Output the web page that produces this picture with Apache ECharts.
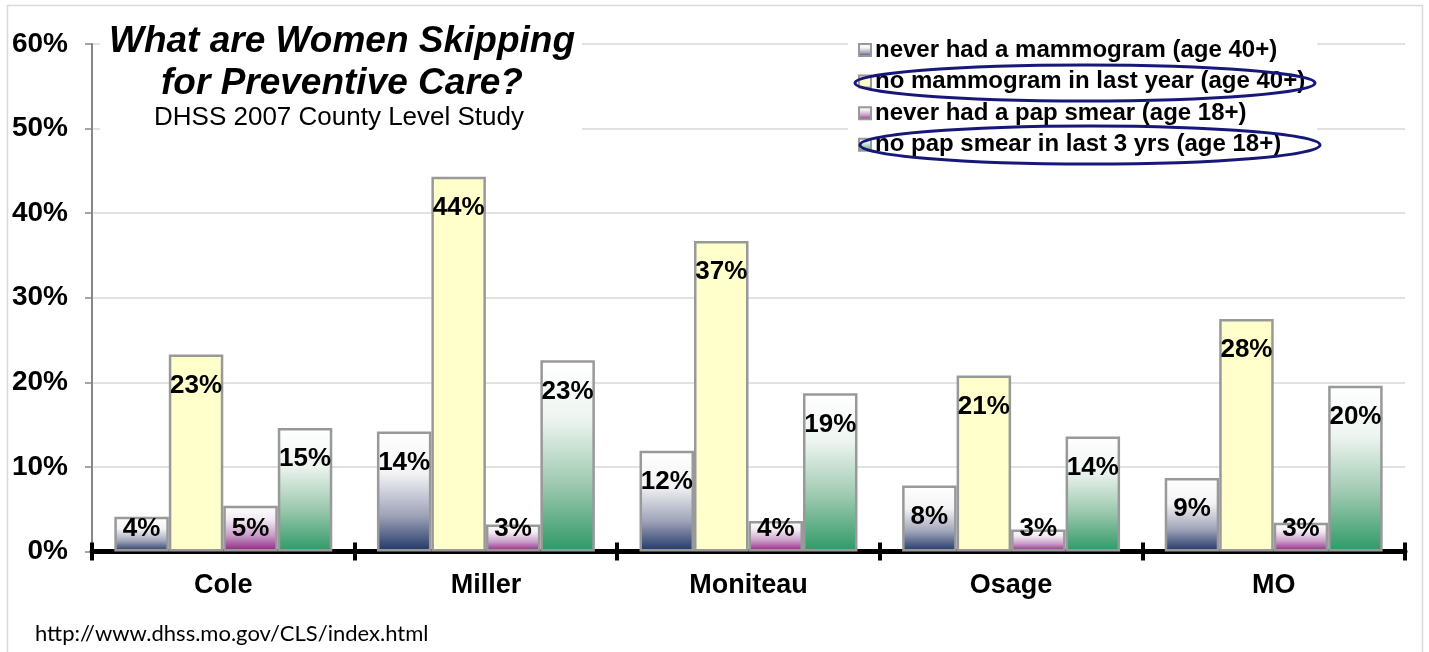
<!DOCTYPE html>
<html>
<head>
<meta charset="utf-8">
<script src="https://cdn.jsdelivr.net/npm/echarts@6/dist/echarts.min.js"></script>
<style>
  html, body { margin: 0; padding: 0; background: #ffffff; }
  #chart { width: 1429px; height: 652px; }
</style>
</head>
<body>
<div id="chart"></div>
<script>
// ---- data ----
var categories = ['Cole', 'Miller', 'Moniteau', 'Osage', 'MO'];
var seriesNames = [
  'never had a mammogram (age 40+)',
  'no mammogram in last year (age 40+)',
  'never had a pap smear (age 18+)',
  'no pap smear in last 3 yrs (age 18+)'
];
var neverMammogram      = [4.1, 14.2, 11.9, 7.8, 8.7];
var noMammogramLastYear = [23.3, 44.3, 36.7, 20.8, 27.5];
var neverPapSmear       = [5.4, 3.2, 3.6, 2.6, 3.4];
var noPapLast3Years     = [14.6, 22.6, 18.7, 13.6, 19.6];
var yTicks = [0, 10, 20, 30, 40, 50, 60];
var titleLines = ['What are Women Skipping', 'for Preventive Care?'];
var subtitle = 'DHSS 2007 County Level Study';
var sourceUrl = 'http://www.dhss.mo.gov/CLS/index.html';

var FONT = '"Liberation Sans", Arial, sans-serif';

function grad(stops) {
  return new echarts.graphic.LinearGradient(0, 0, 0, 1,
    stops.map(function (s) { return { offset: s[0], color: s[1] }; }));
}
var fills = [
  grad([[0, '#ffffff'], [0.35, '#f3f3f5'], [0.7, '#9ea3b8'], [1, '#1f3566']]),
  '#ffffcc',
  grad([[0, '#ffffff'], [0.3, '#f2eaf2'], [0.65, '#c99bc7'], [1, '#86237f']]),
  grad([[0, '#ffffff'], [0.3, '#eef5f1'], [0.65, '#9dc9b0'], [1, '#2e9966']])
];
var allValues = [neverMammogram, noMammogramLastYear, neverPapSmear, noPapLast3Years];

function buildData(vals) {
  return vals.map(function (v) {
    if (v < 6.5) {
      return { value: v, label: { position: 'insideBottom', distance: 10 } };
    }
    return { value: v };
  });
}

var series = allValues.map(function (vals, i) {
  return {
    name: seriesNames[i],
    type: 'bar',
    barGap: '0%',
    barCategoryGap: '17%',
    data: buildData(vals),
    itemStyle: { color: fills[i], borderColor: '#999999', borderWidth: 2.5 },
    label: {
      show: true,
      position: 'insideTop',
      distance: 18,
      color: '#000000',
      fontFamily: FONT,
      fontWeight: 'bold',
      fontSize: 26,
      formatter: function (p) { return Math.round(p.value) + '%'; }
    }
  };
});

var chart = echarts.init(document.getElementById('chart'), null, { renderer: 'canvas' });
chart.setOption({
  backgroundColor: '#ffffff',
  animation: false,
  grid: { left: 92, right: 24, top: 44, bottom: 100.5, containLabel: false },
  legend: {
    data: seriesNames,
    orient: 'vertical',
    left: 848,
    top: 34,
    padding: [4, 12, 4, 10],
    itemGap: 7.6,
    itemWidth: 12,
    itemHeight: 12,
    icon: 'rect',
    selectedMode: false,
    backgroundColor: '#ffffff',
    textStyle: { color: '#000000', fontFamily: FONT, fontWeight: 'bold', fontSize: 24, padding: [0, 0, 0, -1] }
  },
  xAxis: [{
    type: 'category',
    data: categories,
    position: 'bottom',
    axisLine: { show: true, lineStyle: { color: '#000000', width: 5 } },
    axisTick: { show: true, length: 9, lineStyle: { color: '#000000', width: 4 } },
    axisLabel: { color: '#000000', fontFamily: FONT, fontWeight: 'bold', fontSize: 27, margin: 21 },
    splitLine: { show: false }
  }, {
    type: 'category',
    data: categories,
    position: 'bottom',
    axisLine: { show: false },
    axisTick: { show: true, inside: true, length: 9, lineStyle: { color: '#000000', width: 4 } },
    axisLabel: { show: false },
    splitLine: { show: false }
  }],
  yAxis: {
    type: 'value',
    min: yTicks[0],
    max: yTicks[yTicks.length - 1],
    interval: 10,
    axisLine: { show: true, lineStyle: { color: '#868686', width: 2 } },
    axisTick: { show: true, length: 7, lineStyle: { color: '#868686', width: 1.5 } },
    axisLabel: {
      color: '#000000', fontFamily: FONT, fontWeight: 'bold', fontSize: 28, margin: 24,
      formatter: function (v) { return v + '%'; }
    },
    splitLine: { show: true, lineStyle: { color: '#d9d9d9', width: 1.5 } }
  },
  series: series,
  graphic: [
    { type: 'rect', silent: true, z: -10,
      shape: { x: 7.5, y: 5.5, width: 1415, height: 700 },
      style: { fill: 'none', stroke: '#d9d9d9', lineWidth: 1.5 } },
    { type: 'rect', silent: true, z: 10,
      shape: { x: 100, y: 14, width: 482, height: 126 },
      style: { fill: '#ffffff' } },
    { type: 'text', silent: true, z: 11, x: 342, y: 21,
      style: { text: titleLines.join('\n'), fill: '#000000', align: 'center', verticalAlign: 'top',
        font: 'italic bold 37px ' + FONT, lineHeight: 42 } },
    { type: 'text', silent: true, z: 11, x: 339, y: 118,
      style: { text: subtitle, fill: '#000000', align: 'center', verticalAlign: 'middle',
        font: '26px ' + FONT } },
    { type: 'ellipse', silent: true, z: 20,
      shape: { cx: 1085, cy: 83, rx: 230, ry: 18 },
      style: { fill: 'none', stroke: '#17177a', lineWidth: 3 } },
    { type: 'ellipse', silent: true, z: 20,
      shape: { cx: 1090, cy: 145, rx: 230, ry: 19 },
      style: { fill: 'none', stroke: '#17177a', lineWidth: 3 } },
    { type: 'text', silent: true, z: 11, x: 35, y: 634,
      style: { text: sourceUrl, fill: '#000000', align: 'left', verticalAlign: 'middle',
        font: '22px Lato, "Open Sans", sans-serif' } }
  ]
});
</script>
</body>
</html>
